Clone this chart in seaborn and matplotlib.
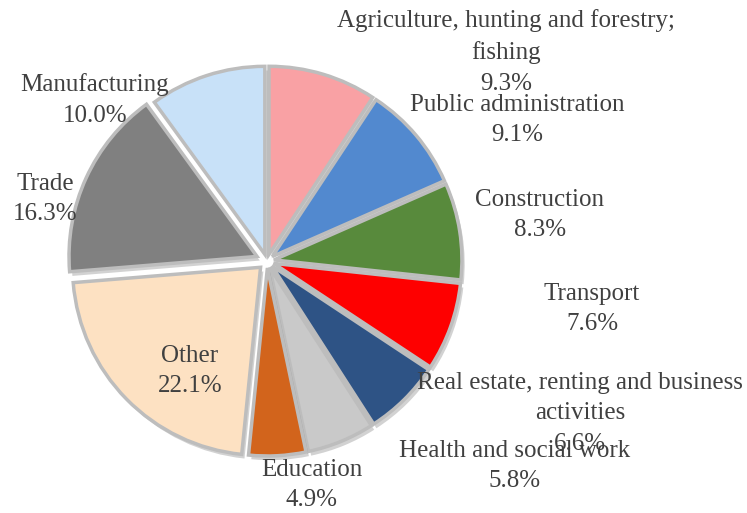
import matplotlib
matplotlib.use("Agg")
import matplotlib.pyplot as plt
import matplotlib.patheffects as pe
import seaborn as sns

# data, clockwise from 12 o'clock
sectors = ["Agriculture, hunting and forestry;\nfishing", "Public administration",
           "Construction", "Transport", "Real estate, renting and business\nactivities",
           "Health and social work", "Education", "Other", "Trade", "Manufacturing"]
shares = [9.3, 9.1, 8.3, 7.6, 6.6, 5.8, 4.9, 22.1, 16.3, 10.0]
colors = ["#f9a1a4", "#5289cf", "#588a3c", "#fe0000", "#2e5385",
          "#c9c9c9", "#d2641c", "#fde1c2", "#808080", "#c8e1f8"]

# layout (pixels from top-left) for the data labels
label_xy = [(506, 52), (517, 120), (540, 215), (592, 309), (580, 413),
            (515, 466), (312, 485), (190, 371), (45, 199), (95, 100)]

sns.set_theme(style="white")
plt.rcParams["font.family"] = ["Liberation Serif", "DejaVu Serif"]

W, H = 747, 513
fig = plt.figure(figsize=(W / 100, H / 100), dpi=100)
ax = fig.add_axes([0, 0, 1, 1])

cx, cy, r = 267, H - 261, 188
explode = [7] * len(shares)
explode[sectors.index("Trade")] = 11
explode[sectors.index("Other")] = 9

wedges, _ = ax.pie(shares, colors=sns.color_palette(colors), startangle=90,
                   counterclock=False, center=(cx, cy), radius=r, explode=explode,
                   frame=True,
                   wedgeprops=dict(edgecolor="#bdbdbd", linewidth=2.5))
for w in wedges:
    w.set_path_effects([pe.SimplePatchShadow(offset=(2, -3), shadow_rgbFace="#7f7f7f", alpha=0.35),
                        pe.Normal()])
ax.set_xlim(0, W)
ax.set_ylim(0, H)
ax.axis("off")

for name, val, (x, y) in zip(sectors, shares, label_xy):
    ax.text(x, H - y, f"{name}\n{val:.1f}%", ha="center", va="center",
            fontsize=18, color="#404040", linespacing=1.5)

fig.savefig("out.png", dpi=100)
